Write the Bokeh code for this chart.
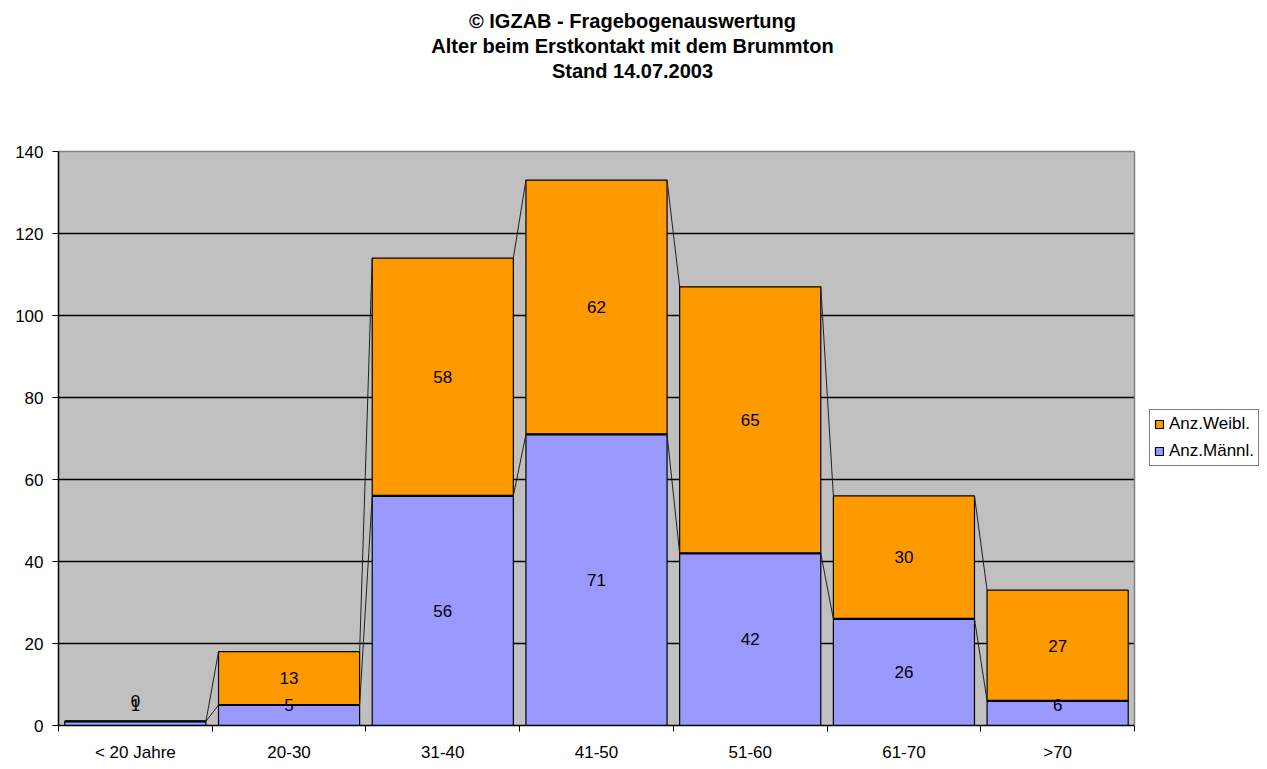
from bokeh.plotting import figure
from bokeh.models import (ColumnDataSource, FixedTicker, Range1d, Legend, LegendItem)
from bokeh.core.properties import value
from bokeh.embed import file_html
from bokeh.resources import INLINE

categories = ["< 20 Jahre", "20-30", "31-40", "41-50", "51-60", "61-70", ">70"]
maennl = [1, 5, 56, 71, 42, 26, 6]
weibl = [0, 13, 58, 62, 65, 30, 27]
y_ticks = [0, 20, 40, 60, 80, 100, 120, 140]
title_lines = ["© IGZAB - Fragebogenauswertung",
               "Alter beim Erstkontakt mit dem Brummton",
               "Stand 14.07.2003"]

FONT = "Liberation Sans"
ORANGE = "#FF9900"
BLUE = "#9999FF"
GRAY = "#C0C0C0"
BAR_W = 0.918

# layout (pixels)
W, H = 1267, 769
LEFT, BOTTOM = 58, 44
PLOT_RIGHT, PLOT_TOP = 1134, 151
FRAME_W = W - LEFT
FRAME_H = H - BOTTOM
YMAX = 140

n = len(categories)
px_per_cat = (PLOT_RIGHT - LEFT) / n
px_per_unit = (H - BOTTOM - PLOT_TOP) / YMAX
x_end = FRAME_W / px_per_cat
y_end = FRAME_H / px_per_unit

xc = [i + 0.5 for i in range(n)]
total = [m + w for m, w in zip(maennl, weibl)]

src = ColumnDataSource(dict(
    x=xc, maennl=maennl, weibl=weibl,
    m_lab=[str(v) for v in maennl], w_lab=[str(v) for v in weibl],
    m_y=[max(v / 2, 5) for v in maennl],
    w_y=[max(m + w / 2, 6) for m, w in zip(maennl, weibl)],
))

p = figure(width=W, height=H, output_backend="svg", toolbar_location=None,
           x_range=Range1d(0, x_end), y_range=Range1d(0, y_end),
           min_border_left=LEFT, min_border_right=0, min_border_top=0, min_border_bottom=BOTTOM,
           background_fill_color="white", border_fill_color="white")
p.title = None
p.outline_line_color = None
p.grid.visible = False

# plot area background
p.quad(left=[0], right=[n], bottom=[0], top=[YMAX], fill_color=GRAY, line_color=None)
# gridlines
grid_y = [t for t in y_ticks if 0 < t < YMAX]
p.segment(x0=[0] * len(grid_y), x1=[n] * len(grid_y), y0=grid_y, y1=grid_y,
          line_color="black", line_width=1.5)
# plot area border (top / right)
p.segment(x0=[0, n], x1=[n, n], y0=[YMAX, 0], y1=[YMAX, YMAX],
          line_color="#808080", line_width=1.5)

# stacked bars
rs = p.vbar_stack(["maennl", "weibl"], x="x", width=BAR_W, source=src,
                  fill_color=[BLUE, ORANGE], line_color="black", line_width=1.2)
# boundary between segments
p.segment(x0=[x - BAR_W / 2 for x in xc], x1=[x + BAR_W / 2 for x in xc],
          y0=maennl, y1=maennl, line_color="black", line_width=2.2)

# series lines
for series in (maennl, total):
    p.segment(x0=[xc[i] + BAR_W / 2 for i in range(n - 1)],
              x1=[xc[i + 1] - BAR_W / 2 for i in range(n - 1)],
              y0=series[:-1], y1=series[1:], line_color="#202020", line_width=1)

# data labels
for ycol, tcol in (("m_y", "m_lab"), ("w_y", "w_lab")):
    p.text(x="x", y=ycol, text=tcol, source=src, text_align="center", text_baseline="middle",
           text_font=value(FONT), text_font_size="17px", text_color="black")

# title (three centred lines above the plot area)
title_px_x = 632
title_px_y = [20, 45, 70]
p.text(x=[(title_px_x - LEFT) / px_per_cat] * 3,
       y=[(FRAME_H - yy) / px_per_unit for yy in title_px_y],
       text=title_lines, text_align="center", text_baseline="middle",
       text_font=value(FONT), text_font_size="20px", text_font_style="bold",
       text_color="black")

# axes
p.xaxis.bounds = (0, n)
p.xaxis.ticker = FixedTicker(ticks=xc, minor_ticks=list(range(n + 1)))
p.xaxis.major_label_overrides = {x: c for x, c in zip(xc, categories)}
p.xaxis.major_tick_line_color = None
p.xaxis.minor_tick_out = 6
p.xaxis.minor_tick_in = 0
p.xaxis.minor_tick_line_color = "black"
p.xaxis.axis_line_color = "black"
p.xaxis.axis_line_width = 1.5
p.xaxis.major_label_text_font = FONT
p.xaxis.major_label_text_font_size = "17px"
p.xaxis.major_label_text_color = "black"
p.xaxis.major_label_standoff = 11

p.yaxis.bounds = (0, YMAX)
p.yaxis.ticker = FixedTicker(ticks=y_ticks, minor_ticks=[])
p.yaxis.major_tick_out = 6
p.yaxis.major_tick_in = 0
p.yaxis.major_tick_line_color = "black"
p.yaxis.axis_line_color = "black"
p.yaxis.axis_line_width = 1.5
p.yaxis.major_label_text_font = FONT
p.yaxis.major_label_text_font_size = "17px"
p.yaxis.major_label_text_color = "black"
p.yaxis.major_label_standoff = 9

legend = Legend(items=[LegendItem(label="Anz.Weibl.", renderers=[rs[1]]),
                       LegendItem(label="Anz.Männl.", renderers=[rs[0]])],
                location=(1149 - LEFT, FRAME_H - 466), orientation="vertical",
                border_line_color="black", border_line_width=1,
                background_fill_color="white", background_fill_alpha=1,
                label_text_font=FONT, label_text_font_size="17px", label_text_color="black",
                glyph_width=10, glyph_height=10, label_standoff=5, padding=4, spacing=7,
                margin=0, label_height=20)
p.add_layout(legend, "center")

open("out.html", "w").write(file_html(p, INLINE))
